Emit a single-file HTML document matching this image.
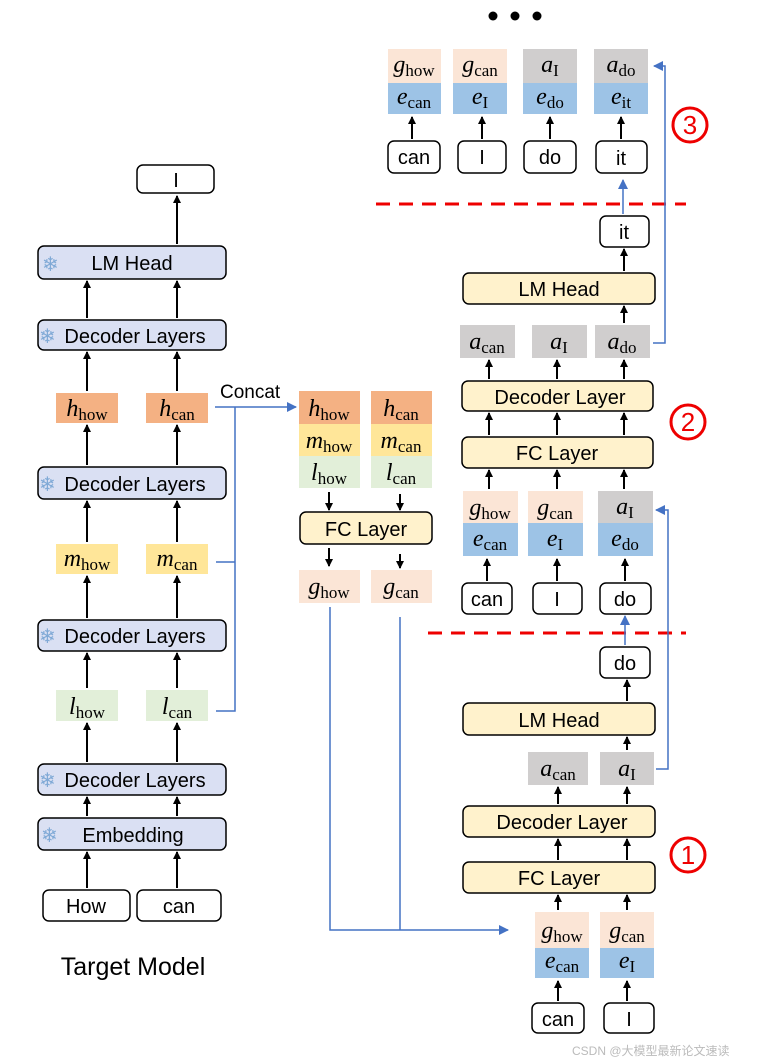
<!DOCTYPE html>
<html><head><meta charset="utf-8"><style>
html,body{margin:0;padding:0;background:#fff;}
svg{display:block;}
.t{font-family:"Liberation Sans",sans-serif;font-size:20px;fill:#000;text-anchor:middle;}
.v{font-family:"Liberation Serif",serif;font-style:italic;font-size:24px;fill:#000;text-anchor:middle;}
.s{font-style:normal;font-size:17px;}
</style></head><body>
<svg width="765" height="1063" viewBox="0 0 765 1063" xmlns="http://www.w3.org/2000/svg">
<defs>
<marker id="ab" markerWidth="8" markerHeight="8" refX="7" refY="4" orient="auto" markerUnits="userSpaceOnUse"><path d="M0,0 L8,4 L0,8 z" fill="#000"/></marker>
<marker id="au" markerWidth="10" markerHeight="10" refX="9" refY="5" orient="auto" markerUnits="userSpaceOnUse"><path d="M0,0 L10,5 L0,10 z" fill="#4472c4"/></marker>
</defs>
<circle cx="493" cy="16" r="4.5"/><circle cx="515" cy="16" r="4.5"/><circle cx="537" cy="16" r="4.5"/>

<g stroke="#000" stroke-width="1.5">
<rect x="137" y="165" width="77" height="28" rx="6" fill="#fff"/>
<rect x="38" y="246" width="188" height="33" rx="6" fill="#dae0f3"/>
<rect x="38" y="320" width="188" height="30" rx="6" fill="#dae0f3"/>
<rect x="38" y="467" width="188" height="32" rx="6" fill="#dae0f3"/>
<rect x="38" y="620" width="188" height="31" rx="6" fill="#dae0f3"/>
<rect x="38" y="764" width="188" height="31" rx="6" fill="#dae0f3"/>
<rect x="38" y="818" width="188" height="32" rx="6" fill="#dae0f3"/>
<rect x="43" y="890" width="87" height="31" rx="6" fill="#fff"/>
<rect x="137" y="890" width="84" height="31" rx="6" fill="#fff"/>
</g>
<g fill="#7fa9d6" font-size="20" font-family="DejaVu Sans"><text x="42" y="271">❄</text><text x="39" y="343">❄</text><text x="39" y="491">❄</text><text x="39" y="643">❄</text><text x="39" y="787">❄</text><text x="41" y="842">❄</text></g>
<text class="t" x="176" y="187">I</text>
<text class="t" x="132" y="270">LM Head</text>
<text class="t" x="135" y="343">Decoder Layers</text>
<text class="t" x="135" y="491">Decoder Layers</text>
<text class="t" x="135" y="643">Decoder Layers</text>
<text class="t" x="135" y="787">Decoder Layers</text>
<text class="t" x="133" y="842">Embedding</text>
<text class="t" x="86" y="913">How</text>
<text class="t" x="179" y="913">can</text>
<text class="t" x="133" y="975" style="font-size:25px">Target Model</text>

<rect x="56" y="393" width="62" height="30" fill="#f4b183"/><rect x="146" y="393" width="62" height="30" fill="#f4b183"/>
<rect x="56" y="544" width="62" height="30" fill="#ffe699"/><rect x="146" y="544" width="62" height="30" fill="#ffe699"/>
<rect x="56" y="690" width="62" height="31" fill="#e2efd9"/><rect x="146" y="690" width="62" height="31" fill="#e2efd9"/>
<text class="v" x="87" y="416">h<tspan class="s" dy="4">how</tspan></text>
<text class="v" x="177" y="416">h<tspan class="s" dy="4">can</tspan></text>
<text class="v" x="87" y="566">m<tspan class="s" dy="4">how</tspan></text>
<text class="v" x="177" y="566">m<tspan class="s" dy="4">can</tspan></text>
<text class="v" x="87" y="714">l<tspan class="s" dy="4">how</tspan></text>
<text class="v" x="177" y="714">l<tspan class="s" dy="4">can</tspan></text>

<g stroke="#000" stroke-width="2" marker-end="url(#ab)">
<line x1="177" y1="244" x2="177" y2="196"/>
<line x1="87" y1="318" x2="87" y2="281"/><line x1="177" y1="318" x2="177" y2="281"/>
<line x1="87" y1="391" x2="87" y2="352"/><line x1="177" y1="391" x2="177" y2="352"/>
<line x1="87" y1="465" x2="87" y2="425"/><line x1="177" y1="465" x2="177" y2="425"/>
<line x1="87" y1="542" x2="87" y2="501"/><line x1="177" y1="542" x2="177" y2="501"/>
<line x1="87" y1="618" x2="87" y2="576"/><line x1="177" y1="618" x2="177" y2="576"/>
<line x1="87" y1="688" x2="87" y2="653"/><line x1="177" y1="688" x2="177" y2="653"/>
<line x1="87" y1="762" x2="87" y2="723"/><line x1="177" y1="762" x2="177" y2="723"/>
<line x1="87" y1="816" x2="87" y2="797"/><line x1="177" y1="816" x2="177" y2="797"/>
<line x1="87" y1="888" x2="87" y2="852"/><line x1="177" y1="888" x2="177" y2="852"/>
</g>

<text x="220" y="398" style="font-family:'Liberation Sans',sans-serif;font-size:19px">Concat</text>
<g stroke="#4472c4" stroke-width="1.5" fill="none">
<line x1="215" y1="407" x2="296" y2="407" marker-end="url(#au)"/>
<polyline points="235,407 235,711 216,711"/>
<line x1="216" y1="562" x2="235" y2="562"/>
<polyline points="330,607 330,930 508,930" marker-end="url(#au)"/>
<line x1="400" y1="617" x2="400" y2="930"/>
</g>

<rect x="299" y="391" width="61" height="33" fill="#f4b183"/><rect x="371" y="391" width="61" height="33" fill="#f4b183"/>
<rect x="299" y="424" width="61" height="32" fill="#ffe699"/><rect x="371" y="424" width="61" height="32" fill="#ffe699"/>
<rect x="299" y="456" width="61" height="32" fill="#e2efd9"/><rect x="371" y="456" width="61" height="32" fill="#e2efd9"/>
<text class="v" x="329" y="416">h<tspan class="s" dy="4">how</tspan></text>
<text class="v" x="401" y="416">h<tspan class="s" dy="4">can</tspan></text>
<text class="v" x="329" y="448">m<tspan class="s" dy="4">how</tspan></text>
<text class="v" x="401" y="448">m<tspan class="s" dy="4">can</tspan></text>
<text class="v" x="329" y="480">l<tspan class="s" dy="4">how</tspan></text>
<text class="v" x="401" y="480">l<tspan class="s" dy="4">can</tspan></text>
<rect x="300" y="512" width="132" height="32" rx="6" fill="#fff2cc" stroke="#000" stroke-width="1.5"/>
<text class="t" x="366" y="536">FC Layer</text>
<rect x="299" y="570" width="61" height="33" fill="#fbe5d6"/><rect x="371" y="570" width="61" height="33" fill="#fbe5d6"/>
<text class="v" x="329" y="594">g<tspan class="s" dy="4">how</tspan></text>
<text class="v" x="401" y="594">g<tspan class="s" dy="4">can</tspan></text>
<g stroke="#000" stroke-width="2" marker-end="url(#ab)">
<line x1="329" y1="492" x2="329" y2="510"/><line x1="400" y1="494" x2="400" y2="510"/>
<line x1="329" y1="548" x2="329" y2="566"/><line x1="400" y1="554" x2="400" y2="568"/>
</g>

<line x1="376" y1="204" x2="686" y2="204" stroke="#e00" stroke-width="3" stroke-dasharray="14,9"/>
<line x1="428" y1="633" x2="686" y2="633" stroke="#e00" stroke-width="3" stroke-dasharray="14,9"/>
<g fill="none" stroke="#e00" stroke-width="3">
<circle cx="688" cy="855" r="17"/><circle cx="688" cy="422" r="17"/><circle cx="690" cy="125" r="17"/>
</g>
<g font-family="Liberation Sans,sans-serif" font-size="26" fill="#e00" text-anchor="middle">
<text x="688" y="864">1</text><text x="688" y="431">2</text><text x="690" y="134">3</text>
</g>

<rect x="535" y="912" width="54" height="36" fill="#fbe5d6"/><rect x="600" y="912" width="54" height="36" fill="#fbe5d6"/>
<rect x="535" y="948" width="54" height="30" fill="#9dc3e6"/><rect x="600" y="948" width="54" height="30" fill="#9dc3e6"/>
<text class="v" x="562" y="938">g<tspan class="s" dy="4">how</tspan></text>
<text class="v" x="627" y="938">g<tspan class="s" dy="4">can</tspan></text>
<text class="v" x="562" y="968">e<tspan class="s" dy="4">can</tspan></text>
<text class="v" x="627" y="968">e<tspan class="s" dy="4">I</tspan></text>
<g stroke="#000" stroke-width="1.5">
<rect x="532" y="1003" width="52" height="30" rx="6" fill="#fff"/><rect x="604" y="1003" width="50" height="30" rx="6" fill="#fff"/>
<rect x="463" y="862" width="192" height="31" rx="6" fill="#fff2cc"/>
<rect x="463" y="806" width="192" height="31" rx="6" fill="#fff2cc"/>
<rect x="463" y="703" width="192" height="32" rx="6" fill="#fff2cc"/>
<rect x="600" y="647" width="50" height="31" rx="6" fill="#fff"/>
</g>
<text class="t" x="558" y="1026">can</text><text class="t" x="629" y="1026">I</text>
<text class="t" x="559" y="885">FC Layer</text>
<text class="t" x="562" y="829">Decoder Layer</text>
<text class="t" x="559" y="727">LM Head</text>
<text class="t" x="625" y="670">do</text>
<rect x="528" y="752" width="60" height="33" fill="#d0cece"/><rect x="600" y="752" width="54" height="33" fill="#d0cece"/>
<text class="v" x="558" y="776">a<tspan class="s" dy="4">can</tspan></text>
<text class="v" x="627" y="776">a<tspan class="s" dy="4">I</tspan></text>
<g stroke="#000" stroke-width="2" marker-end="url(#ab)">
<line x1="558" y1="1001" x2="558" y2="981"/><line x1="627" y1="1001" x2="627" y2="981"/>
<line x1="558" y1="910" x2="558" y2="895"/><line x1="627" y1="910" x2="627" y2="895"/>
<line x1="558" y1="860" x2="558" y2="839"/><line x1="627" y1="860" x2="627" y2="839"/>
<line x1="558" y1="804" x2="558" y2="787"/><line x1="627" y1="804" x2="627" y2="787"/>
<line x1="627" y1="750" x2="627" y2="737"/>
<line x1="627" y1="701" x2="627" y2="680"/>
</g>
<g stroke="#4472c4" stroke-width="1.5" fill="none">
<line x1="625" y1="645" x2="625" y2="616" marker-end="url(#au)"/>
<polyline points="656,769 668,769 668,510 656,510" marker-end="url(#au)"/>
<line x1="623" y1="214" x2="623" y2="180" marker-end="url(#au)"/>
<polyline points="653,343 665,343 665,66 654,66" marker-end="url(#au)"/>
</g>

<rect x="463" y="491" width="55" height="32" fill="#fbe5d6"/><rect x="528" y="491" width="55" height="32" fill="#fbe5d6"/><rect x="598" y="491" width="55" height="32" fill="#d0cece"/>
<rect x="463" y="523" width="55" height="33" fill="#9dc3e6"/><rect x="528" y="523" width="55" height="33" fill="#9dc3e6"/><rect x="598" y="523" width="55" height="33" fill="#9dc3e6"/>
<text class="v" x="490" y="515">g<tspan class="s" dy="4">how</tspan></text>
<text class="v" x="555" y="515">g<tspan class="s" dy="4">can</tspan></text>
<text class="v" x="625" y="514">a<tspan class="s" dy="4">I</tspan></text>
<text class="v" x="490" y="546">e<tspan class="s" dy="4">can</tspan></text>
<text class="v" x="555" y="546">e<tspan class="s" dy="4">I</tspan></text>
<text class="v" x="625" y="546">e<tspan class="s" dy="4">do</tspan></text>
<g stroke="#000" stroke-width="1.5">
<rect x="462" y="583" width="50" height="31" rx="6" fill="#fff"/><rect x="533" y="583" width="49" height="31" rx="6" fill="#fff"/><rect x="600" y="583" width="51" height="31" rx="6" fill="#fff"/>
<rect x="462" y="437" width="191" height="31" rx="6" fill="#fff2cc"/>
<rect x="462" y="381" width="191" height="30" rx="6" fill="#fff2cc"/>
<rect x="463" y="273" width="192" height="31" rx="6" fill="#fff2cc"/>
<rect x="600" y="216" width="49" height="31" rx="6" fill="#fff"/>
</g>
<text class="t" x="487" y="606">can</text><text class="t" x="557" y="606">I</text><text class="t" x="625" y="606">do</text>
<text class="t" x="557" y="460">FC Layer</text>
<text class="t" x="560" y="404">Decoder Layer</text>
<text class="t" x="559" y="296">LM Head</text>
<text class="t" x="624" y="239">it</text>
<rect x="460" y="325" width="55" height="33" fill="#d0cece"/><rect x="532" y="325" width="55" height="33" fill="#d0cece"/><rect x="595" y="325" width="55" height="33" fill="#d0cece"/>
<text class="v" x="487" y="349">a<tspan class="s" dy="4">can</tspan></text>
<text class="v" x="559" y="349">a<tspan class="s" dy="4">I</tspan></text>
<text class="v" x="622" y="349">a<tspan class="s" dy="4">do</tspan></text>
<g stroke="#000" stroke-width="2" marker-end="url(#ab)">
<line x1="487" y1="581" x2="487" y2="559"/><line x1="557" y1="581" x2="557" y2="559"/><line x1="625" y1="581" x2="625" y2="559"/>
<line x1="489" y1="489" x2="489" y2="470"/><line x1="557" y1="489" x2="557" y2="470"/><line x1="624" y1="489" x2="624" y2="470"/>
<line x1="489" y1="435" x2="489" y2="413"/><line x1="557" y1="435" x2="557" y2="413"/><line x1="624" y1="435" x2="624" y2="413"/>
<line x1="489" y1="379" x2="489" y2="360"/><line x1="557" y1="379" x2="557" y2="360"/><line x1="624" y1="379" x2="624" y2="360"/>
<line x1="624" y1="323" x2="624" y2="306"/>
<line x1="624" y1="271" x2="624" y2="249"/>
</g>

<rect x="388" y="49" width="53" height="34" fill="#fbe5d6"/><rect x="453" y="49" width="54" height="34" fill="#fbe5d6"/><rect x="523" y="49" width="54" height="34" fill="#d0cece"/><rect x="594" y="49" width="54" height="34" fill="#d0cece"/>
<rect x="388" y="83" width="53" height="31" fill="#9dc3e6"/><rect x="453" y="83" width="54" height="31" fill="#9dc3e6"/><rect x="523" y="83" width="54" height="31" fill="#9dc3e6"/><rect x="594" y="83" width="54" height="31" fill="#9dc3e6"/>
<text class="v" x="414" y="72">g<tspan class="s" dy="4">how</tspan></text>
<text class="v" x="480" y="72">g<tspan class="s" dy="4">can</tspan></text>
<text class="v" x="550" y="72">a<tspan class="s" dy="4">I</tspan></text>
<text class="v" x="621" y="72">a<tspan class="s" dy="4">do</tspan></text>
<text class="v" x="414" y="104">e<tspan class="s" dy="4">can</tspan></text>
<text class="v" x="480" y="104">e<tspan class="s" dy="4">I</tspan></text>
<text class="v" x="550" y="104">e<tspan class="s" dy="4">do</tspan></text>
<text class="v" x="621" y="104">e<tspan class="s" dy="4">it</tspan></text>
<g stroke="#000" stroke-width="1.5" fill="#fff">
<rect x="388" y="141" width="52" height="32" rx="6"/><rect x="458" y="141" width="48" height="32" rx="6"/><rect x="524" y="141" width="52" height="32" rx="6"/><rect x="596" y="141" width="51" height="32" rx="6"/>
</g>
<text class="t" x="414" y="164">can</text><text class="t" x="482" y="164">I</text><text class="t" x="550" y="164">do</text><text class="t" x="621" y="165">it</text>
<g stroke="#000" stroke-width="2" marker-end="url(#ab)">
<line x1="412" y1="139" x2="412" y2="117"/><line x1="482" y1="139" x2="482" y2="117"/><line x1="550" y1="139" x2="550" y2="117"/><line x1="621" y1="139" x2="621" y2="117"/>
</g>

<text x="572" y="1055" style="font-family:'Liberation Sans','Noto Sans CJK SC',sans-serif;font-size:12px;fill:#bbb">CSDN @大模型最新论文速读</text>
</svg>
</body></html>
